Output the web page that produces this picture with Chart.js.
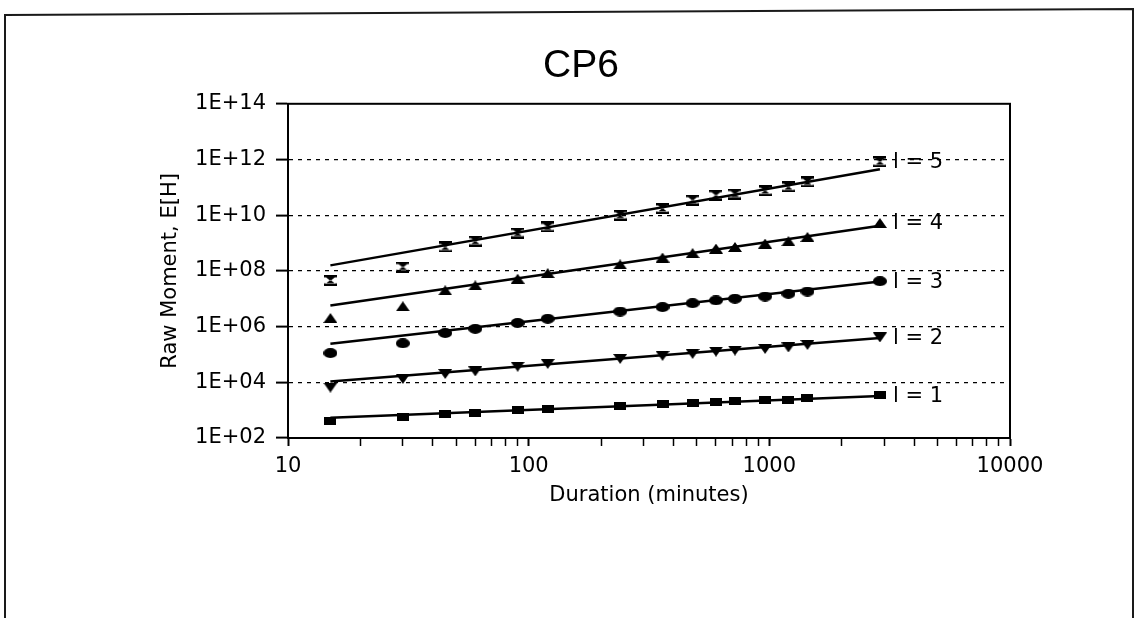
<!DOCTYPE html>
<html><head><meta charset="utf-8">
<script src="https://cdn.jsdelivr.net/npm/chart.js@4"></script>
<style>html,body{margin:0;padding:0;background:#fff;}canvas{display:block;}</style>
</head><body>
<canvas id="c" width="1138" height="618"></canvas>
<script>
// ---- data ----
const durations = [15, 30, 45, 60, 90, 120, 240, 360, 480, 600, 720, 960, 1200, 1440, 2880];
const seriesLabels = ['l = 1', 'l = 2', 'l = 3', 'l = 4', 'l = 5'];
const moment1 = [410, 575, 710, 795, 1000, 1120, 1380, 1620, 1860, 2040, 2140, 2290, 2400, 2690, 3470];
const moment2 = [6460, 13200, 19950, 24550, 36300, 45700, 69200, 89100, 104700, 125900, 138000, 158500, 177800, 218800, 407400];
const moment3 = [1.12e5, 2.51e5, 5.89e5, 8.32e5, 1.35e6, 1.91e6, 3.47e6, 5.01e6, 6.92e6, 8.71e6, 1.0e7, 1.20e7, 1.51e7, 1.82e7, 4.27e7];
const moment4 = [2.04e6, 5.37e6, 2.0e7, 3.02e7, 5.25e7, 8.32e7, 1.70e8, 3.02e8, 4.37e8, 6.31e8, 7.24e8, 9.55e8, 1.17e9, 1.66e9, 5.25e9];
const moment5 = [4.57e7, 1.38e8, 7.24e8, 1.17e9, 2.29e9, 3.80e9, 1.0e10, 1.74e10, 3.47e10, 5.25e10, 5.75e10, 7.59e10, 1.05e11, 1.58e11, 8.32e11];
const trendDurations = [15, 2880];
const trend1 = [537, 3236];
const trend2 = [10700, 389000];
const trend3 = [2.4e5, 4.17e7];
const trend4 = [5.75e6, 4.17e9];
const trend5 = [1.58e8, 4.47e11];
const yTickValues = [1e2, 1e4, 1e6, 1e8, 1e10, 1e12, 1e14];
const yTickLabels = ['1E+02', '1E+04', '1E+06', '1E+08', '1E+10', '1E+12', '1E+14'];
const xMajorTicks = [10, 100, 1000, 10000];
const xMajorLabels = ['10', '100', '1000', '10000'];
const xMinorTicks = [20, 30, 40, 50, 60, 70, 80, 90, 200, 300, 400, 500, 600, 700, 800, 900, 2000, 3000, 4000, 5000, 6000, 7000, 8000, 9000];

// ---- marker images ----
function marker(kind) {
  const c = document.createElement('canvas');
  const dims = {rect: [12, 8], down: [14, 10], circle: [14, 10], up: [14, 10], hour: [13, 11]}[kind];
  c.width = dims[0]; c.height = dims[1];
  const g = c.getContext('2d');
  g.fillStyle = '#000';
  const w = c.width, h = c.height;
  g.beginPath();
  if (kind === 'rect') { g.rect(0, 0, w, h); }
  else if (kind === 'down') { g.moveTo(0, 0); g.lineTo(w, 0); g.lineTo(w / 2, h); g.closePath(); }
  else if (kind === 'up') { g.moveTo(w / 2, 0); g.lineTo(w, h); g.lineTo(0, h); g.closePath(); }
  else if (kind === 'circle') { g.ellipse(w / 2, h / 2, w / 2, h / 2, 0, 0, Math.PI * 2); }
  else if (kind === 'hour') {
    g.rect(0, 0, w, 2.5); g.rect(0, h - 2.5, w, 2.5);
    g.moveTo(1.5, 2); g.lineTo(w - 1.5, 2); g.lineTo(w / 2, h / 2 + 0.5); g.closePath();
    g.moveTo(1.5, h - 2); g.lineTo(w - 1.5, h - 2); g.lineTo(w / 2, h / 2 - 0.5); g.closePath();
  }
  g.fill();
  return c;
}

const pts = (ys, xs) => ys.map((y, i) => ({x: xs[i], y}));
const seriesData = [moment1, moment2, moment3, moment4, moment5];
const trendData = [trend1, trend2, trend3, trend4, trend5];
const markerKinds = ['rect', 'down', 'circle', 'up', 'hour'];

const datasets = [];
trendData.forEach((t, k) => {
  datasets.push({
    label: seriesLabels[k] + ' fit', data: pts(t, trendDurations), showLine: true,
    pointRadius: 0, borderColor: '#000', borderWidth: 2.5, fill: false, tension: 0
  });
});
seriesData.forEach((s, k) => {
  datasets.push({
    label: seriesLabels[k], data: pts(s, durations), showLine: false,
    pointStyle: marker(markerKinds[k]), pointRadius: 6, pointHoverRadius: 6,
    borderColor: '#000', backgroundColor: '#000'
  });
});

const axisFont = {family: 'DejaVu Sans', size: 21};

const framePlugin = {
  id: 'frame',
  beforeDraw(chart) {
    const ctx = chart.ctx;
    ctx.save();
    ctx.fillStyle = '#fff';
    ctx.fillRect(0, 0, chart.width, chart.height);
    ctx.strokeStyle = '#1a1a1a';
    ctx.lineWidth = 2;
    ctx.beginPath();
    ctx.moveTo(5, 618); ctx.lineTo(5, 15); ctx.lineTo(1133, 9); ctx.lineTo(1133, 618);
    ctx.stroke();
    ctx.restore();
  },
  afterDraw(chart) {
    const {ctx, chartArea: a, scales} = chart;
    ctx.save();
    ctx.strokeStyle = '#000';
    ctx.lineWidth = 2;
    ctx.strokeRect(a.left, a.top, a.right - a.left, a.bottom - a.top);
    ctx.fillStyle = '#000';
    ctx.font = '21px "DejaVu Sans"';
    ctx.textBaseline = 'middle';
    ctx.textAlign = 'left';
    seriesData.forEach((s, k) => {
      const x = scales.x.getPixelForValue(durations[durations.length - 1]) + 13;
      const y = scales.y.getPixelForValue(s[s.length - 1]) + 1;
      ctx.fillText(seriesLabels[k], x, y);
    });
    ctx.restore();
  }
};

new Chart(document.getElementById('c'), {
  type: 'scatter',
  data: {datasets},
  plugins: [framePlugin],
  options: {
    responsive: false, animation: false, devicePixelRatio: 1,
    layout: {padding: {left: 152, right: 128, top: 0, bottom: 106}},
    plugins: {
      legend: {display: false}, tooltip: {enabled: false},
      title: {display: true, text: 'CP6', color: '#000',
        font: {family: 'Liberation Sans', size: 39, weight: 'normal'},
        padding: {top: 43, bottom: 14}}
    },
    scales: {
      x: {
        type: 'logarithmic', min: 10, max: 10000,
        afterBuildTicks: s => {
          s.ticks = xMajorTicks.concat(xMinorTicks).sort((a, b) => a - b)
            .map(v => ({value: v, major: xMajorTicks.includes(v)}));
        },
        afterFit: s => { s.height = 74; },
        ticks: {
          autoSkip: false, maxRotation: 0, minRotation: 0, color: '#000', font: axisFont, padding: 8,
          callback: v => { const k = xMajorTicks.indexOf(v); return k >= 0 ? xMajorLabels[k] : ''; }
        },
        grid: {drawOnChartArea: false, drawTicks: true, tickLength: 8, tickColor: '#000',
          tickWidth: c => (c.tick && xMajorTicks.includes(c.tick.value)) ? 2 : 1.5},
        border: {display: true, color: '#000', width: 2},
        title: {display: true, text: 'Duration (minutes)', color: '#000', font: axisFont, padding: {top: 0, bottom: 4}}
      },
      y: {
        type: 'logarithmic', min: 1e2, max: 1e14,
        afterBuildTicks: s => { s.ticks = yTickValues.map(v => ({value: v})); },
        afterFit: s => { s.width = 136; },
        ticks: {autoSkip: false, color: '#000', font: axisFont, padding: 10,
          callback: (v, i) => yTickLabels[i]},
        grid: {
          color: c => (c.tick && (c.tick.value === 1e2 || c.tick.value === 1e14)) ? 'rgba(0,0,0,0)' : '#000',
          lineWidth: 1.2, tickColor: '#000', tickLength: 12, tickWidth: 2, tickBorderDash: []
        },
        border: {display: true, color: '#000', width: 2, dash: [4, 5]},
        title: {display: true, text: 'Raw Moment, E[H]', color: '#000', font: axisFont, padding: 6}
      }
    }
  }
});
</script>
</body></html>
